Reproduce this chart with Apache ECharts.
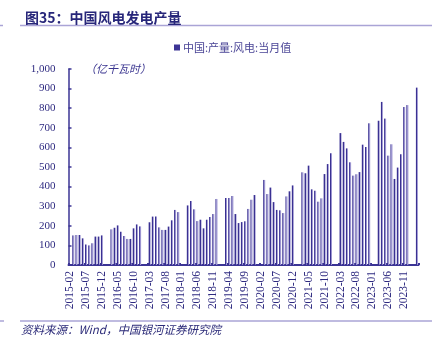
<!DOCTYPE html>
<html><head><meta charset="utf-8">
<script src="https://cdn.jsdelivr.net/npm/echarts@6/dist/echarts.min.js"></script>
<style>html,body{margin:0;padding:0;background:#fff}#c{width:442px;height:339px}</style>
</head><body><div id="c"></div>
<script>
// Categories: monthly, 2015-02 .. 2024-03
var startYear = 2015, startMonth = 2, endYear = 2024, endMonth = 3;
var categories = [];
for (var y = startYear; y <= endYear; y++) {
  for (var m = (y === startYear ? startMonth : 1); m <= (y === endYear ? endMonth : 12); m++) {
    categories.push(y + '-' + (m < 10 ? '0' + m : m));
  }
}
// Monthly wind power output (亿千瓦时); Jan/Feb not reported (null)
var v2015 = [null, 151, 153, 153, 136, 104, 100, 111, 145, 145, 151];           // Feb-Dec
var v2016 = [null, null, 182, 190, 202, 170, 148, 133, 133, 187, 207, 197];
var v2017 = [null, null, 218, 247, 247, 192, 179, 179, 196, 228, 281, 270];
var v2018 = [null, null, 304, 327, 284, 224, 231, 187, 231, 245, 260, 337];
var v2019 = [null, null, 342, 342, 352, 260, 214, 219, 223, 286, 333, 357];
var v2020 = [null, null, 434, 362, 395, 321, 281, 279, 265, 350, 376, 406];
var v2021 = [null, null, 473, 468, 507, 386, 379, 323, 340, 464, 515, 570];
var v2022 = [null, null, 673, 628, 595, 524, 456, 463, 474, 614, 602, 723];
var v2023 = [null, null, 736, 832, 747, 558, 616, 439, 497, 565, 806, 816];
var v2024 = [null, null, 905];                                                   // Jan-Mar
var values = [].concat(v2015, v2016, v2017, v2018, v2019, v2020, v2021, v2022, v2023, v2024);

var seriesName = '中国:产量:风电:当月值';
var yTicks = [0, 100, 200, 300, 400, 500, 600, 700, 800, 900, 1000];

var chart = echarts.init(document.getElementById('c'), null, {renderer: 'canvas'});
var dark = '#2e2a80';
var axisC = '#3b3495';
var light = '#aaa4d6';
chart.setOption({
  animation: false,
  title: {
    text: '图35：中国风电发电产量', left: 20, top: 6,
    textStyle: {fontFamily: 'Noto Sans CJK SC', fontSize: 14, fontWeight: 'bold', color: '#27267a'}
  },
  legend: {
    left: 169, top: 37, icon: 'rect', itemWidth: 6, itemHeight: 6, itemGap: 3,
    data: [{name: seriesName, itemStyle: {color: '#3d3595'}}],
    textStyle: {fontFamily: 'Noto Sans CJK SC', fontSize: 11, color: '#4a4596', padding: [0,0,0,-2]}
  },
  grid: {left: 68.5, right: 23.5, top: 69, bottom: 74},
  xAxis: {
    type: 'category', data: categories, boundaryGap: true,
    axisLine: {lineStyle: {color: axisC, width: 2}},
    axisTick: {show: true, inside: true, length: 2, interval: 4, lineStyle: {color: axisC, width: 2}},
    axisLabel: {interval: 4, rotate: 90, margin: 6, fontFamily: 'Liberation Serif', fontSize: 11.5, color: dark}
  },
  yAxis: {
    type: 'value', min: 0, max: 1000, interval: 100,
    axisLine: {show: true, lineStyle: {color: axisC, width: 1.5}},
    axisTick: {show: true, inside: true, length: 3, lineStyle: {color: axisC, width: 1.5}},
    splitLine: {show: false},
    axisLabel: {margin: 13, fontFamily: 'Liberation Serif', fontSize: 11, color: dark,
      formatter: function (v) { return yTicks.indexOf(v) >= 0 ? v.toLocaleString('en-US') : ''; }}
  },
  series: [{
    name: seriesName, type: 'bar', data: values, barWidth: 2, clip: false,
    itemStyle: {color: new echarts.graphic.LinearGradient(0, 0, 1, 0, [
      {offset: 0, color: '#3a3192'}, {offset: 0.5, color: '#3a3192'},
      {offset: 0.5, color: '#9b94d0'}, {offset: 1, color: '#9b94d0'}])}
  }],
  graphic: [
    {type: 'line', shape: {x1: 20, y1: 25.5, x2: 432, y2: 25.5}, style: {stroke: light, lineWidth: 1.5}},
    {type: 'line', shape: {x1: 0, y1: 25.5, x2: 3, y2: 25.5}, style: {stroke: light, lineWidth: 1.5}},
    {type: 'line', shape: {x1: 20, y1: 321, x2: 432, y2: 321}, style: {stroke: light, lineWidth: 1.5}},
    {type: 'line', shape: {x1: 0, y1: 321, x2: 4, y2: 321}, style: {stroke: light, lineWidth: 1.5}},
    {type: 'text', left: 85, top: 63, style: {text: '（亿千瓦时）', font: 'italic 11px "Noto Sans CJK SC"', fill: '#3a3590'}},
    {type: 'text', left: 21, top: 324, style: {text: '资料来源：Wind，中国银河证券研究院', font: 'italic 11.5px "Noto Sans CJK SC"', fill: '#2b2a78'}}
  ]
});
</script></body></html>
